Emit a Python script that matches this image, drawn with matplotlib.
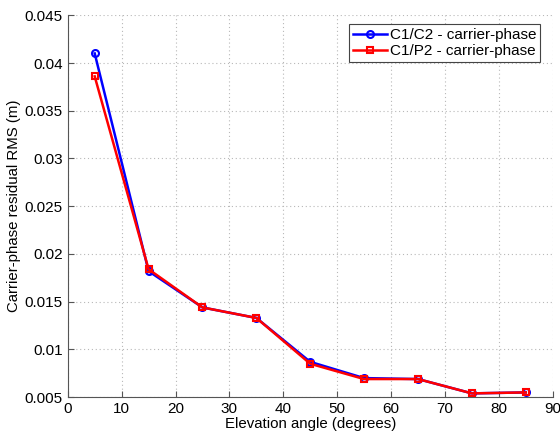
import matplotlib
matplotlib.use("Agg")
import matplotlib.pyplot as plt

plt.rcParams["font.family"] = ["Liberation Sans", "DejaVu Sans"]

elevation = [5, 15, 25, 35, 45, 55, 65, 75, 85]
rms_c1c2 = [0.0410, 0.0182, 0.0144, 0.0133, 0.0087, 0.0070, 0.0069, 0.0054, 0.0055]
rms_c1p2 = [0.0386, 0.0184, 0.0144, 0.0133, 0.0085, 0.0069, 0.0069, 0.0054, 0.0055]

fig = plt.figure(figsize=(5.6, 4.36), dpi=100)
ax = fig.add_axes([0.121, 0.089, 0.866, 0.876])

ax.plot(elevation, rms_c1c2, color="blue", lw=1.8, marker="o", ms=5,
        mfc="none", mew=1.5, label="C1/C2 - carrier-phase")
ax.plot(elevation, rms_c1p2, color="red", lw=1.8, marker="s", ms=5,
        mfc="none", mew=1.5, label="C1/P2 - carrier-phase")

ax.set_xlim(0, 90)
ax.set_ylim(0.005, 0.045)
ax.set_xticks(range(0, 91, 10))
ax.set_yticks([0.005, 0.01, 0.015, 0.02, 0.025, 0.03, 0.035, 0.04, 0.045])
ax.set_yticklabels(["0.005", "0.01", "0.015", "0.02", "0.025", "0.03",
                    "0.035", "0.04", "0.045"])
ax.grid(True, linestyle=(0, (1, 2.5)), color="#b8b8b8", lw=0.8)
ax.tick_params(direction="in", length=4, labelsize=11, color="#555555")

for side in ["top", "right"]:
    ax.spines[side].set_visible(False)
for side in ["left", "bottom"]:
    ax.spines[side].set_color("#555555")

ax.set_xlabel("Elevation angle (degrees)", fontsize=10.8, labelpad=1)
ax.set_ylabel("Carrier-phase residual RMS (m)", fontsize=10.8, labelpad=3)

leg = ax.legend(loc="upper right", bbox_to_anchor=(0.98, 0.985), fontsize=11,
                fancybox=False, framealpha=1, edgecolor="#444444",
                handlelength=2.2, borderpad=0.25, labelspacing=0.15,
                handletextpad=0.2, borderaxespad=0.2)
leg.get_frame().set_linewidth(0.8)

fig.savefig("out.png", dpi=100)
